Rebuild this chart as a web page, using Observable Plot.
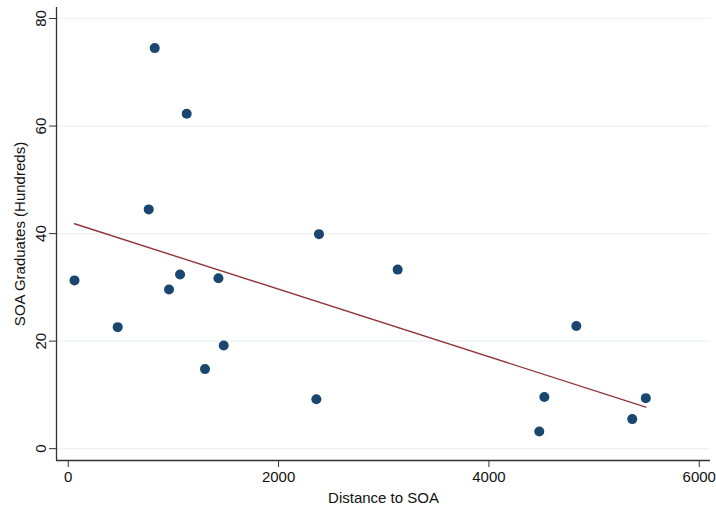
<!DOCTYPE html>
<html>
<head>
<meta charset="utf-8">
<script src="https://cdn.jsdelivr.net/npm/d3@7"></script>
<script src="https://cdn.jsdelivr.net/npm/@observablehq/plot@0.6"></script>
<style>
  html, body { margin: 0; padding: 0; background: #fff; }
  #chart svg { display: block; }
</style>
</head>
<body>
<div id="chart"></div>
<script>
const distance = [59, 470, 958, 1063, 1428, 1478, 1300, 2359, 822, 1126, 765, 2384, 3132, 4831, 4527, 4479, 5363, 5492];
const graduates = [31.3, 22.6, 29.6, 32.4, 31.7, 19.2, 14.8, 9.2, 74.5, 62.3, 44.5, 39.9, 33.3, 22.8, 9.6, 3.2, 5.5, 9.4];
const xTicks = [0, 2000, 4000, 6000];
const yTicks = [0, 20, 40, 60, 80];
const xDomain = [-112, 6107];
const yDomain = [-2.2, 82.05];

const data = distance.map((d, i) => ({distance: d, graduates: graduates[i]}));

const chart = Plot.plot({
  width: 716,
  height: 506,
  marginLeft: 56,
  marginRight: 6,
  marginTop: 7,
  marginBottom: 46,
  style: {fontFamily: "'Liberation Sans', Arial, sans-serif", fontSize: "15px", background: "#fff", color: "#111"},
  x: {domain: xDomain},
  y: {domain: yDomain},
  marks: [
    Plot.gridY(yTicks, {stroke: "#eaf2f3", strokeOpacity: 1, strokeWidth: 1.2}),
    Plot.axisX(xTicks, {tickSize: 7, tickPadding: 4, tickFormat: d3.format("d"), stroke: "#333", label: "Distance to SOA", labelAnchor: "center", labelArrow: "none", labelOffset: 42, fontSize: 15}),
    Plot.axisY(yTicks, {tickSize: 7, tickPadding: 4, tickRotate: -90, tickFormat: d3.format("d"), stroke: "#333", label: "SOA Graduates (Hundreds)", labelAnchor: "center", labelArrow: "none", labelOffset: 42, fontSize: 15}),
    Plot.ruleX([xDomain[0]], {stroke: "#333", strokeWidth: 1.3}),
    Plot.ruleY([yDomain[0]], {stroke: "#333", strokeWidth: 1.3}),
    Plot.linearRegressionY(data, {x: "distance", y: "graduates", stroke: "#90353b", strokeWidth: 1.4, ci: 0}),
    Plot.dot(data, {x: "distance", y: "graduates", r: 5, fill: "#1a476f", stroke: "none"})
  ]
});
document.getElementById("chart").appendChild(chart);
</script>
</body>
</html>
